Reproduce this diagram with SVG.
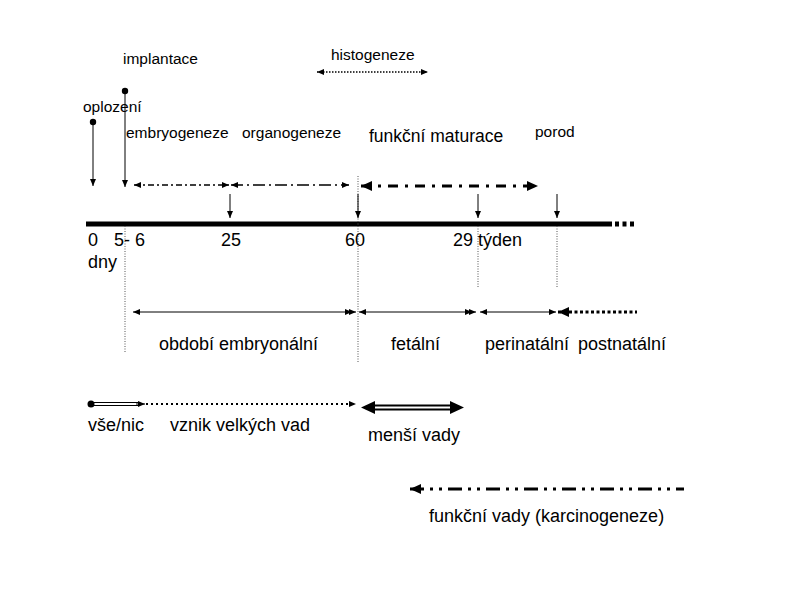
<svg xmlns="http://www.w3.org/2000/svg" width="800" height="600" viewBox="0 0 800 600">
<style>
text{font-family:"Liberation Sans",Arial,sans-serif;fill:#000}
.s{font-size:15.5px}
.m{font-size:18px}
.ln{stroke:#000;fill:none}
.vd{stroke:#555;stroke-width:1;stroke-dasharray:1,1.5;fill:none}
</style>
<defs>
<marker id="as" markerUnits="userSpaceOnUse" markerWidth="8" markerHeight="8" refX="7" refY="4" orient="auto-start-reverse" viewBox="0 0 8 8"><path d="M0,1 L7,4 L0,7 z" fill="#000"/></marker>
<marker id="ab" markerUnits="userSpaceOnUse" markerWidth="14" markerHeight="14" refX="11" refY="7" orient="auto-start-reverse" viewBox="0 0 14 14"><path d="M0,2 L11,7 L0,12 z" fill="#000"/></marker>
<marker id="dot" markerUnits="userSpaceOnUse" markerWidth="8" markerHeight="8" refX="4" refY="4" viewBox="0 0 8 8"><circle cx="4" cy="4" r="3.2" fill="#000"/></marker>
</defs>

<g id="timeline">
<line x1="86" y1="224" x2="612" y2="224" stroke="#000" stroke-width="5"/>
<line x1="615" y1="224" x2="636" y2="224" stroke="#000" stroke-width="5" stroke-dasharray="4,3.5"/>
</g>

<g id="guides">
<line class="vd" x1="125" y1="226" x2="125" y2="352"/>
<line class="vd" x1="358" y1="176" x2="358" y2="362"/>
<line class="vd" x1="478" y1="226" x2="478" y2="288"/>
<line class="vd" x1="557" y1="226" x2="557" y2="288"/>
</g>

<g id="connectors">
<line class="ln" x1="93" y1="122" x2="93" y2="186" marker-start="url(#dot)" marker-end="url(#as)"/>
<line class="ln" x1="125" y1="91" x2="125" y2="187" marker-start="url(#dot)" marker-end="url(#as)"/>
<line class="ln" x1="230" y1="194" x2="230" y2="218" marker-end="url(#as)"/>
<line class="ln" x1="358" y1="194" x2="358" y2="218" marker-end="url(#as)"/>
<line class="ln" x1="478" y1="194" x2="478" y2="218" marker-end="url(#as)"/>
<line class="ln" x1="557" y1="194" x2="557" y2="218" marker-end="url(#as)"/>

<line class="ln" x1="317" y1="72" x2="428" y2="72" stroke-width="1.5" stroke-dasharray="1.5,1.5" marker-start="url(#as)" marker-end="url(#as)"/>

<line class="ln" x1="134" y1="185" x2="229" y2="185" stroke-width="1.5" stroke-dasharray="6,3,2,3" marker-start="url(#as)" marker-end="url(#as)"/>
<line class="ln" x1="231" y1="185" x2="349" y2="185" stroke-width="1.5" stroke-dasharray="12,4,2,4" marker-start="url(#as)" marker-end="url(#as)"/>
<line class="ln" x1="361" y1="186" x2="538" y2="186" stroke-width="3" stroke-dasharray="10,7,3,7" marker-start="url(#ab)" marker-end="url(#ab)"/>

<line class="ln" x1="133" y1="312" x2="352" y2="312" marker-start="url(#as)" marker-end="url(#as)"/>
<line class="ln" x1="350" y1="312" x2="356" y2="312" marker-end="url(#as)"/>
<line class="ln" x1="359" y1="312" x2="472" y2="312" marker-start="url(#as)" marker-end="url(#as)"/>
<line class="ln" x1="470" y1="312" x2="476" y2="312" marker-end="url(#as)"/>
<line class="ln" x1="480" y1="312" x2="556" y2="312" marker-start="url(#as)" marker-end="url(#as)"/>
<line class="ln" x1="558" y1="312" x2="637" y2="312" stroke-width="3" stroke-dasharray="3,2.5" marker-start="url(#ab)"/>

<line x1="91" y1="402.5" x2="138" y2="402.5" stroke="#000" stroke-width="1.2"/>
<line x1="91" y1="405.5" x2="138" y2="405.5" stroke="#000" stroke-width="1.2"/>
<circle cx="91" cy="404" r="3.5" fill="#000"/>
<line x1="136" y1="404" x2="145" y2="404" stroke="#000" stroke-width="1" marker-end="url(#as)"/>
<line class="ln" x1="146" y1="404" x2="356" y2="404" stroke-width="2" stroke-dasharray="2,3" marker-end="url(#as)"/>

<line x1="370" y1="405.5" x2="455" y2="405.5" stroke="#000" stroke-width="2"/>
<line x1="370" y1="409.5" x2="455" y2="409.5" stroke="#000" stroke-width="2"/>
<path d="M361,407.5 L375,401 L375,414 z" fill="#000"/>
<path d="M464,407.5 L450,401 L450,414 z" fill="#000"/>

<line class="ln" x1="410" y1="489" x2="684" y2="489" stroke-width="3" stroke-dasharray="14,6,3,6,3,6" marker-start="url(#ab)"/>
</g>

<g id="labels">
<text class="s" x="123" y="64">implantace</text>
<text class="s" x="331" y="60">histogeneze</text>
<text class="s" x="83" y="112">oplození</text>
<text class="s" x="126" y="138">embryogeneze</text>
<text class="s" x="242" y="138">organogeneze</text>
<text class="m" x="369" y="142" style="font-size:17.5px">funkční maturace</text>
<text class="s" x="535" y="137">porod</text>
<text class="m" x="88" y="246">0</text>
<text class="m" x="114" y="246">5- 6</text>
<text class="m" x="221" y="246">25</text>
<text class="m" x="345" y="246">60</text>
<text class="m" x="453" y="246">29 týden</text>
<text class="m" x="88" y="268">dny</text>
<text class="m" x="159" y="350">období embryonální</text>
<text class="m" x="391" y="350">fetální</text>
<text class="m" x="485" y="350">perinatální</text>
<text class="m" x="578" y="350">postnatální</text>
<text class="m" x="88" y="431">vše/nic</text>
<text class="m" x="170" y="431">vznik velkých vad</text>
<text class="m" x="368" y="441">menší vady</text>
<text class="m" x="429" y="522">funkční vady (karcinogeneze)</text>
</g>
</svg>
